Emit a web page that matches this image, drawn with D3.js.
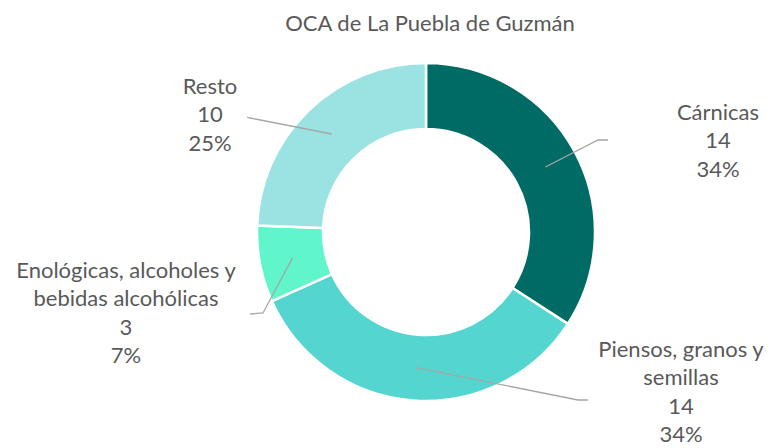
<!DOCTYPE html>
<html>
<head>
<meta charset="utf-8">
<script src="https://cdn.jsdelivr.net/npm/d3@7"></script>
<style>
  body { margin: 0; background: #fff; }
  text { font-family: Lato, "Open Sans", sans-serif; fill: #595959; }
</style>
</head>
<body>
<div id="chart"></div>
<script>
// Data
const categories = ["Cárnicas", "Piensos, granos y semillas", "Enológicas, alcoholes y bebidas alcohólicas", "Resto"];
const values = [14, 14, 3, 10];
const percentLabels = ["34%", "34%", "7%", "25%"];
const nameLines = [["Cárnicas"], ["Piensos, granos y", "semillas"], ["Enológicas, alcoholes y", "bebidas alcohólicas"], ["Resto"]];
const colors = ["#006b64", "#55d5d0", "#60f5ca", "#9be3e3"];

// Chart dimensions
const width = 774;
const height = 448;
const cx = 426, cy = 232;
const outerR = 169, innerR = 103, labelR = 136;
const lineH = 28.5;
const fontSize = "22px";

// label block centre x, first line y, and the leader line elbow / end
const labelLayout = [
  { x: 718, y: 114, elbow: [598, 140], end: [608, 140] },
  { x: 681, y: 351, elbow: [578, 400], end: [588, 400] },
  { x: 126, y: 272, elbow: [263, 313], end: [250, 314] },
  { x: 210, y: 88,  elbow: [250, 118], end: [247, 117] }
];

const data = categories.map((c, i) => ({ name: c, value: values[i], pct: percentLabels[i], lines: nameLines[i], color: colors[i], pos: labelLayout[i] }));

const svg = d3.select("#chart").append("svg")
    .attr("width", width)
    .attr("height", height)
    .attr("viewBox", [0, 0, width, height]);

// Title
svg.append("text")
    .attr("x", cx + 4)
    .attr("y", 25)
    .attr("text-anchor", "middle")
    .attr("dominant-baseline", "middle")
    .style("font-size", fontSize)
    .text("OCA de La Puebla de Guzmán");

const pie = d3.pie().sort(null).value(d => d.value);
const arc = d3.arc().innerRadius(innerR).outerRadius(outerR);
const labelArc = d3.arc().innerRadius(labelR).outerRadius(labelR);
const arcs = pie(data);

const g = svg.append("g").attr("transform", `translate(${cx},${cy})`);

g.selectAll("path")
    .data(arcs)
    .join("path")
    .attr("d", arc)
    .attr("fill", d => d.data.color)
    .attr("stroke", "#fff")
    .attr("stroke-width", 2.5);

// Leader lines
svg.append("g")
    .selectAll("polyline")
    .data(arcs)
    .join("polyline")
    .attr("fill", "none")
    .attr("stroke", "#a6a6a6")
    .attr("stroke-width", 1.3)
    .attr("points", d => {
        const [x, y] = labelArc.centroid(d);
        return [[x + cx, y + cy], d.data.pos.elbow, d.data.pos.end].map(p => p.join(",")).join(" ");
    });

// Data labels
const labels = svg.append("g")
    .selectAll("text")
    .data(arcs)
    .join("text")
    .attr("text-anchor", "middle")
    .style("font-size", fontSize);

labels.each(function(d) {
    const lines = d.data.lines.concat([String(d.data.value), d.data.pct]);
    d3.select(this).selectAll("tspan")
        .data(lines)
        .join("tspan")
        .attr("x", d.data.pos.x)
        .attr("y", (l, i) => d.data.pos.y + i * lineH)
        .attr("dominant-baseline", "middle")
        .text(l => l);
});
</script>
</body>
</html>
